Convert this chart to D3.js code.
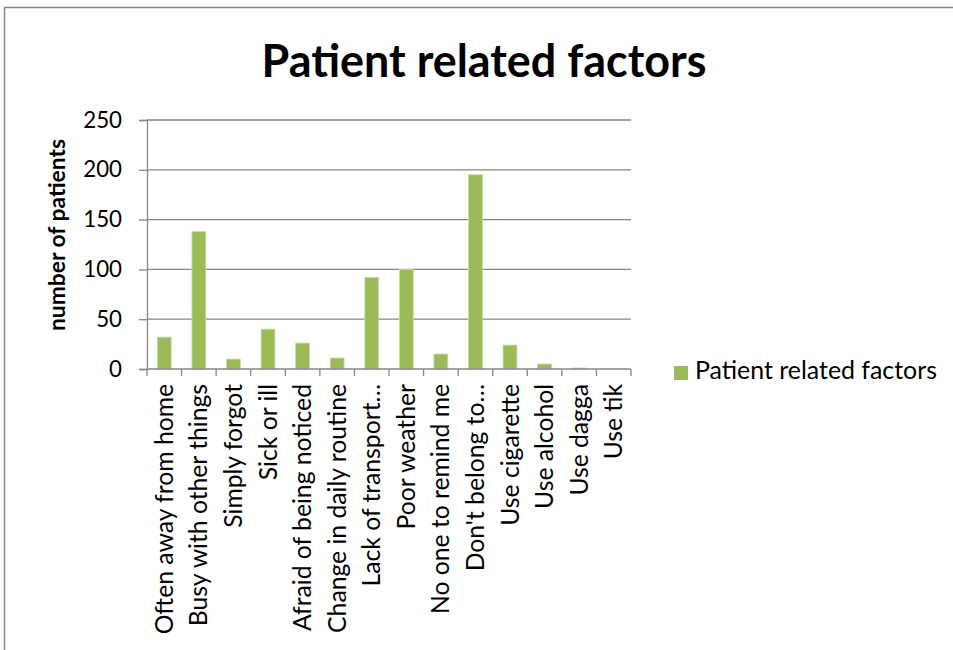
<!DOCTYPE html>
<html><head><meta charset="utf-8">
<script src="https://cdn.jsdelivr.net/npm/d3@7"></script>
<style>body{margin:0;background:#fff}svg{display:block}text{font-family:Lato,"Open Sans",sans-serif}</style>
</head><body><svg id="c" width="953" height="650"></svg>
<script>
const categories = ["Often away from home","Busy with other things","Simply forgot","Sick or ill","Afraid of being noticed","Change in daily routine","Lack of transport\u2026","Poor weather","No one to remind me","Don't belong to\u2026","Use cigarette","Use alcohol","Use dagga","Use tik"];
const values = [32,138,10,40,26,11,92,100,15,195,24,5,1,0];
const yTicks = [0,50,100,150,200,250];
const seriesName = "Patient related factors";
const title = "Patient related factors";
const yTitle = "number of patients";

const svg = d3.select("#c");
const color = "#9BBB59", axisCol = "#868686";
svg.append("rect").attr("x",4.5).attr("y",7.5).attr("width",1000).attr("height",700)
  .attr("fill","#fff").attr("stroke",axisCol).attr("stroke-width",1.5);

const m = {l:147, r:631, t:120, b:369};
const x = d3.scaleBand().domain(categories).range([m.l,m.r]).paddingInner(0.6).paddingOuter(0.3);
const y = d3.scaleLinear().domain([0,250]).range([m.b,m.t]);

// gridlines
svg.append("g").selectAll("line").data(yTicks.filter(d=>d>0)).join("line")
  .attr("x1",m.l).attr("x2",m.r).attr("y1",d=>y(d)).attr("y2",d=>y(d))
  .attr("stroke",axisCol).attr("stroke-width",1.3);

// bars
svg.append("g").selectAll("rect").data(values).join("rect")
  .attr("x",(d,i)=>x(categories[i])).attr("width",x.bandwidth())
  .attr("y",d=>y(d)).attr("height",d=>y(0)-y(d))
  .attr("fill",color).attr("stroke","#c9dca0").attr("stroke-width",0.8);

// y axis
const ya = svg.append("g").attr("transform",`translate(${m.l},0)`)
  .call(d3.axisLeft(y).tickValues(yTicks).tickSize(8).tickPadding(17));
ya.select(".domain").attr("stroke",axisCol).attr("stroke-width",1.3);
ya.selectAll(".tick line").attr("stroke",axisCol).attr("stroke-width",1.3);
ya.selectAll(".tick text").attr("font-size",22.3).attr("fill","#000").attr("font-family","Lato");

// x axis
const xa = svg.append("g").attr("transform",`translate(0,${m.b})`);
xa.append("line").attr("x1",m.l).attr("x2",m.r).attr("stroke",axisCol).attr("stroke-width",1.3);
const bounds = d3.range(categories.length+1).map(i=>m.l + i*(m.r-m.l)/categories.length);
xa.selectAll("line.t").data(bounds).join("line").attr("class","t")
  .attr("x1",d=>d).attr("x2",d=>d).attr("y1",0).attr("y2",7)
  .attr("stroke",axisCol).attr("stroke-width",1.3);
xa.selectAll("text").data(categories).join("text")
  .attr("transform",d=>`translate(${x(d)+x.bandwidth()/2+8.5},15) rotate(-90)`)
  .attr("text-anchor","end").attr("font-size",24.7).text(d=>d);

// title
svg.append("text").attr("x",484).attr("y",77).attr("text-anchor","middle")
  .attr("font-size",44.9).attr("font-weight","bold").text(title);

// y title
svg.append("text").attr("transform","translate(65,235) rotate(-90)").attr("text-anchor","middle")
  .attr("font-size",22.8).attr("font-weight","bold").text(yTitle);

// legend
svg.append("rect").attr("x",674).attr("y",366).attr("width",14).attr("height",14).attr("fill",color);
svg.append("text").attr("x",695).attr("y",378.5).attr("font-size",24.9).text(seriesName);
</script></body></html>
